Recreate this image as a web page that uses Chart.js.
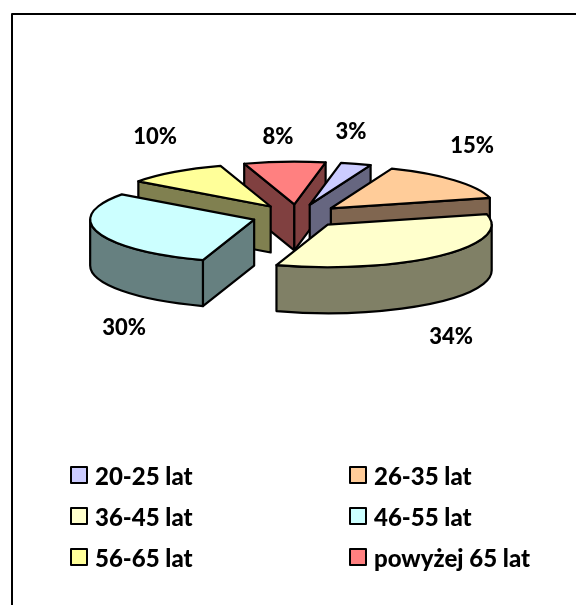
<!DOCTYPE html>
<html><head><meta charset="utf-8">
<style>html,body{margin:0;padding:0;background:#fff}canvas{display:block}</style>
<script src="https://cdn.jsdelivr.net/npm/chart.js@4/dist/chart.umd.js"></script>
</head><body>
<div style="width:576px;height:605px;position:relative"><canvas id="c" width="576" height="605"></canvas></div>
<script>
const categories = ['20-25 lat','26-35 lat','36-45 lat','46-55 lat','56-65 lat','powyżej 65 lat'];
const shares = [3,15,34,30,10,8];
const topColors = ['#CCCCFF','#FFCC99','#FFFFCC','#CCFFFF','#FFFF99','#FF8080'];
const sideColors = ['#666680','#806650','#808066','#668080','#808050','#804040'];
const paintOrder = [5,0,4,1,3,2];
const labelSpots = [[351,132],[472,146],[451,337],[124,328],[155,137],[278,137]];
const legendSpots = [[71,467],[350,467],[71,508],[350,508],[71,549],[350,549]];
const center = {x:297,y:216}, tilt = 0.26, depth = 46, explode = 45, radius = 164;

const pie3d = {
  id:'pie3d',
  beforeDatasetsDraw(chart){
    const ctx = chart.ctx, arcs = chart.getDatasetMeta(0).data;
    const px = (a,r,o)=>[o[0]+r*Math.cos(a), o[1]+tilt*r*Math.sin(a)];
    const line = ()=>{ctx.strokeStyle='#000';ctx.lineWidth=2.2;ctx.lineJoin='round';ctx.fill();ctx.stroke();};
    paintOrder.forEach(i=>{
      const a = arcs[i], s=a.startAngle, e=a.endAngle, r=a.outerRadius, mid=(s+e)/2;
      const o=[center.x+explode*Math.cos(mid), center.y+tilt*explode*Math.sin(mid)];
      ctx.fillStyle = sideColors[i];
      [[s,s-Math.PI/2],[e,e+Math.PI/2]].forEach(([ang,nrm])=>{
        if(Math.sin(nrm)>0){
          const p=px(ang,r,o);
          ctx.beginPath();ctx.moveTo(o[0],o[1]);ctx.lineTo(p[0],p[1]);
          ctx.lineTo(p[0],p[1]+depth);ctx.lineTo(o[0],o[1]+depth);ctx.closePath();line();
        }
      });
      const two=Math.PI*2;
      for(let k=-1;k<=1;k++){
        const f0=Math.max(s,k*two), f1=Math.min(e,k*two+Math.PI);
        if(f1>f0){
          ctx.beginPath();
          ctx.ellipse(o[0],o[1],r,tilt*r,0,f0,f1);
          ctx.ellipse(o[0],o[1]+depth,r,tilt*r,0,f1,f0,true);
          ctx.closePath();line();
        }
      }
      ctx.fillStyle = topColors[i];
      ctx.beginPath();ctx.moveTo(o[0],o[1]);
      ctx.ellipse(o[0],o[1],r,tilt*r,0,s,e);
      ctx.closePath();line();
    });
    return false;
  },
  afterDraw(chart){
    const ctx = chart.ctx;
    ctx.save();
    ctx.strokeStyle='#000';ctx.lineWidth=2;ctx.strokeRect(12,14,600,620);
    ctx.fillStyle='#000';ctx.textBaseline='middle';
    ctx.font='900 22px Lato, Carlito, sans-serif';ctx.textAlign='center';
    shares.forEach((v,i)=>ctx.fillText(v+'%',labelSpots[i][0],labelSpots[i][1]));
    ctx.textAlign='left';
    ctx.font='900 24px Lato, Carlito, sans-serif';
    categories.forEach((c,i)=>{
      const [x,y]=legendSpots[i];
      ctx.fillStyle=topColors[i];ctx.fillRect(x,y,16,16);ctx.strokeRect(x,y,16,16);
      ctx.fillStyle='#000';ctx.fillText(c,x+24,y+10);
    });
    ctx.restore();
  }
};
new Chart(document.getElementById('c'),{
  type:'pie',
  data:{labels:categories,datasets:[{data:shares,backgroundColor:topColors,borderColor:'#000',borderWidth:2}]},
  options:{responsive:false,animation:false,rotation:11,radius:radius,layout:{padding:0},
    plugins:{legend:{display:false},tooltip:{enabled:false}}},
  plugins:[pie3d]
});
</script>
</body></html>
